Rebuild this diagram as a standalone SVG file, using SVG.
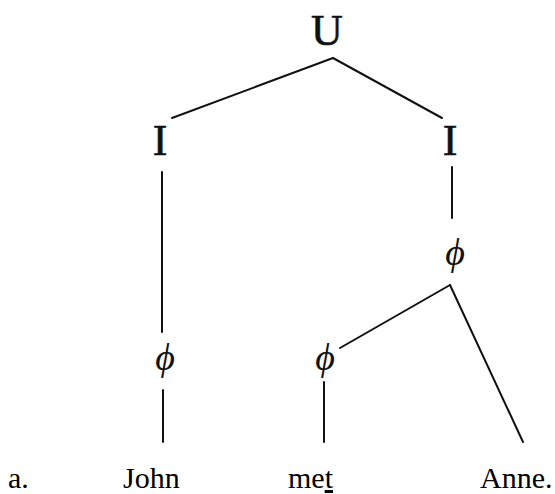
<svg xmlns="http://www.w3.org/2000/svg" width="555" height="494" viewBox="0 0 555 494">
<style>
.lbl{font-family:"Liberation Serif","Times New Roman",serif;fill:#111;text-anchor:middle}
.big{font-size:44px;stroke:#111;stroke-width:0.6}
.phi{font-size:38px;font-style:italic}
.word{font-family:"Liberation Serif","Times New Roman",serif;font-size:30px;fill:#000}
.edge{stroke:#111;stroke-width:2;fill:none;stroke-linecap:round}
</style>
<rect width="555" height="494" fill="#fff"/>
<g id="connectors">
<line class="edge" x1="333" y1="58" x2="172" y2="118"/>
<line class="edge" x1="333" y1="58" x2="442" y2="118"/>
<line class="edge" x1="162" y1="172" x2="162" y2="332"/>
<line class="edge" x1="452" y1="167" x2="452" y2="218"/>
<line class="edge" x1="450" y1="285" x2="340" y2="348"/>
<line class="edge" x1="450" y1="285" x2="523" y2="442"/>
<line class="edge" x1="163" y1="390" x2="163" y2="442"/>
<line class="edge" x1="324" y1="382" x2="324" y2="442"/>
</g>
<g id="node-U"><text class="lbl big" x="327" y="45">U</text></g>
<g id="node-I-left"><text class="lbl big" x="160" y="155">I</text></g>
<g id="node-I-right"><text class="lbl big" x="450" y="155">I</text></g>
<g id="node-phi-right"><text class="lbl phi" x="455" y="265">ϕ</text></g>
<g id="node-phi-left"><text class="lbl phi" x="165" y="370">ϕ</text></g>
<g id="node-phi-mid"><text class="lbl phi" x="325" y="370">ϕ</text></g>
<g id="words">
<text class="word" x="8" y="488">a.</text>
<text class="word" x="123" y="488">John</text>
<text class="word" x="288" y="488">me<tspan text-decoration="underline">t</tspan></text>
<text class="word" x="480" y="488">Anne.</text>
</g>
</svg>
